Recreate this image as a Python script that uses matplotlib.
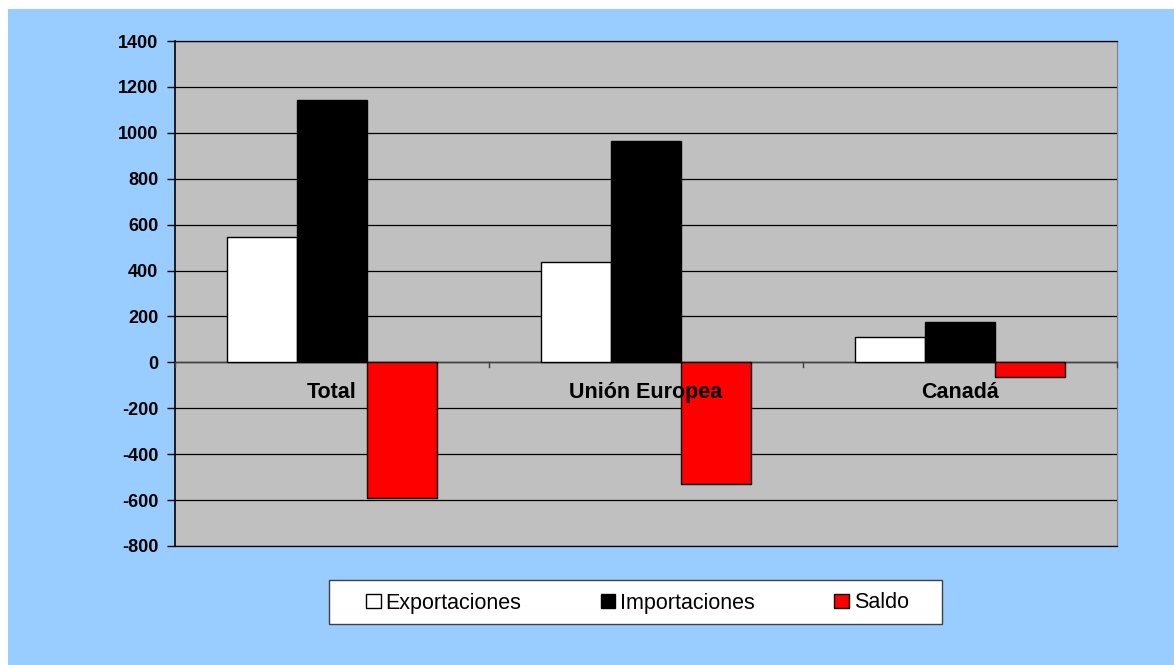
import matplotlib
matplotlib.use("Agg")
import matplotlib.pyplot as plt
import numpy as np
from matplotlib.patches import Rectangle

categories = ["Total", "Unión Europea", "Canadá"]
exportaciones = [545, 436, 109]
importaciones = [1142, 963, 174]
saldo = [-593, -532, -65]
series_names = ["Exportaciones", "Importaciones", "Saldo"]
yticks = list(range(-800, 1401, 200))

plt.rcParams['font.family'] = ['Liberation Sans', 'DejaVu Sans']

W, H = 1174, 665
fig = plt.figure(figsize=(W/100, H/100), dpi=100)
fig.patch.set_facecolor('white')
fig.patches.append(Rectangle((8/W, 0), 1 - 8/W, 1 - 9/H, transform=fig.transFigure,
                             facecolor='#99CCFF', edgecolor='none', zorder=-10))

ax = fig.add_axes([175/W, 1 - 546/H, (1117-175)/W, (546-41)/H])
ax.set_facecolor('#C0C0C0')

x = np.arange(len(categories))
w = 0.223
ax.bar(x - w, exportaciones, w, color='white', edgecolor='black', linewidth=1, label=series_names[0], zorder=3)
ax.bar(x, importaciones, w, color='black', edgecolor='black', linewidth=1, label=series_names[1], zorder=3)
ax.bar(x + w, saldo, w, color='#FF0000', edgecolor='black', linewidth=1, label=series_names[2], zorder=3)

ax.set_xlim(-0.5, len(categories) - 0.5)
ax.set_ylim(-800, 1400)
ax.set_yticks(yticks)
ax.set_yticklabels([str(v) for v in yticks], fontsize=13, fontweight='bold')
ax.yaxis.grid(True, color='black', linewidth=0.9, zorder=1)
ax.set_axisbelow(True)
ax.tick_params(axis='y', direction='out', length=6, width=1, pad=6)

ax.set_xticks([])
for i in range(len(categories) + 1):
    ax.plot([i - 0.5, i - 0.5], [0, -22], color='#404040', linewidth=1, clip_on=False, zorder=4)
ax.axhline(0, color='#404040', linewidth=1, zorder=2)
for i, c in enumerate(categories):
    ax.text(i, -132, c, ha='center', va='center', fontsize=15.5, fontweight='bold', zorder=5)

ax.spines['top'].set_color('black')
ax.spines['top'].set_linewidth(0.9)
ax.spines['bottom'].set_color('black')
ax.spines['bottom'].set_linewidth(0.9)
ax.spines['right'].set_color('#808080')
ax.spines['left'].set_color('black')
ax.spines['left'].set_linewidth(1.2)

# legend frame
fig.patches.append(Rectangle((329/W, 1 - 624/H), (942-329)/W, 44/H, transform=fig.transFigure,
                             facecolor='white', edgecolor='#404040', linewidth=1, zorder=1))
leg = fig.legend(loc='center', bbox_to_anchor=(637.5/W, 1 - 603/H), ncol=3,
                 frameon=False, fontsize=15.5, handlelength=0.68, handleheight=0.68,
                 handletextpad=0.23, columnspacing=3.68, borderpad=0, borderaxespad=0)
leg.set_zorder(5)

fig.savefig('out.png', dpi=100, facecolor=fig.get_facecolor())
